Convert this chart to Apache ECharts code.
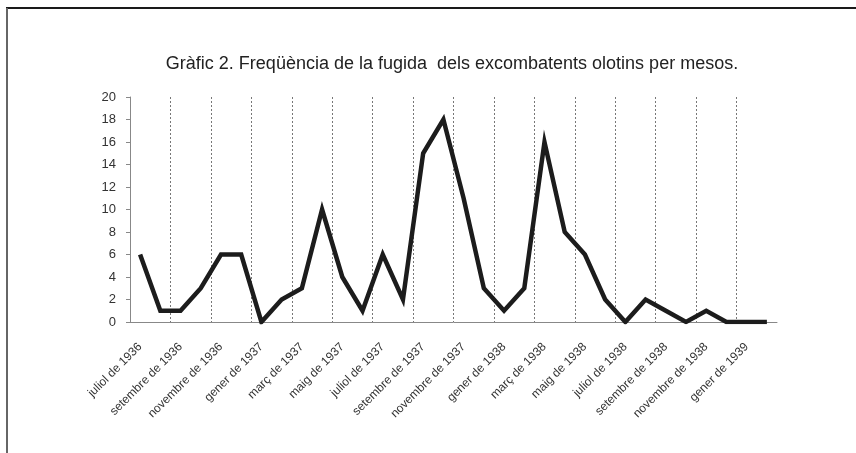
<!DOCTYPE html>
<html>
<head>
<meta charset="utf-8">
<script src="https://cdn.jsdelivr.net/npm/echarts@6/dist/echarts.min.js"></script>
<style>
  html, body { margin: 0; padding: 0; background: #fff; }
  #chart { width: 856px; height: 453px; }
</style>
</head>
<body>
<div id="chart"></div>
<script>
// mesos, de juliol de 1936 a febrer de 1939
const months = [
  'juliol de 1936', 'agost de 1936', 'setembre de 1936', 'octubre de 1936',
  'novembre de 1936', 'desembre de 1936', 'gener de 1937', 'febrer de 1937',
  'març de 1937', 'abril de 1937', 'maig de 1937', 'juny de 1937',
  'juliol de 1937', 'agost de 1937', 'setembre de 1937', 'octubre de 1937',
  'novembre de 1937', 'desembre de 1937', 'gener de 1938', 'febrer de 1938',
  'març de 1938', 'abril de 1938', 'maig de 1938', 'juny de 1938',
  'juliol de 1938', 'agost de 1938', 'setembre de 1938', 'octubre de 1938',
  'novembre de 1938', 'desembre de 1938', 'gener de 1939', 'febrer de 1939'
]
const fugides = [
  6, 1, 1, 3, 6, 6, 0, 2, 3, 10, 4, 1, 6, 2, 15, 18,
  11, 3, 1, 3, 16, 8, 6, 2, 0, 2, 1, 0, 1, 0, 0, 0
]
const yTicks = { min: 0, max: 20, step: 2 }

const chart = echarts.init(document.getElementById('chart'))

chart.setOption({
  animation: false,
  backgroundColor: '#fff',
  textStyle: { fontFamily: 'Liberation Sans, Arial, sans-serif' },
  title: {
    text: 'Gràfic 2. Freqüència de la fugida  dels excombatents olotins per mesos.',
    left: 447,
    top: 50,
    textAlign: 'center',
    textStyle: { fontSize: 18, fontWeight: 'normal', color: '#222' }
  },
  // marc de la figura (només dalt i esquerra visibles)
  graphic: [
    { type: 'line', shape: { x1: 6, y1: 8, x2: 856, y2: 8 }, style: { stroke: '#1a1a1a', lineWidth: 2 } },
    { type: 'line', shape: { x1: 7, y1: 8, x2: 7, y2: 453 }, style: { stroke: '#666', lineWidth: 2 } }
  ],
  grid: { left: 130, right: 79, top: 97, bottom: 131 },
  xAxis: {
    type: 'category',
    data: months,
    boundaryGap: true,
    axisLine: { lineStyle: { color: '#888', width: 1 } },
    axisTick: { interval: 1, length: 4, lineStyle: { color: '#888' } },
    axisLabel: {
      interval: 1,
      rotate: 45,
      fontSize: 12,
      color: '#333',
      margin: 23
    },
    splitLine: {
      show: true,
      interval: 1,
      showMinLine: false,
      showMaxLine: false,
      lineStyle: { color: '#777', type: [2, 2], width: 1 }
    }
  },
  yAxis: {
    type: 'value',
    min: yTicks.min,
    max: yTicks.max,
    interval: yTicks.step,
    axisLine: { show: true, lineStyle: { color: '#888' } },
    axisTick: { show: true, length: 4, lineStyle: { color: '#888' } },
    axisLabel: { fontSize: 13, color: '#333', margin: 14 },
    splitLine: { show: false }
  },
  series: [
    {
      name: 'fugides',
      type: 'line',
      data: fugides,
      symbol: 'none',
      lineStyle: { color: '#1c1c1c', width: 4.5, join: 'miter' }
    }
  ]
})
</script>
</body>
</html>
